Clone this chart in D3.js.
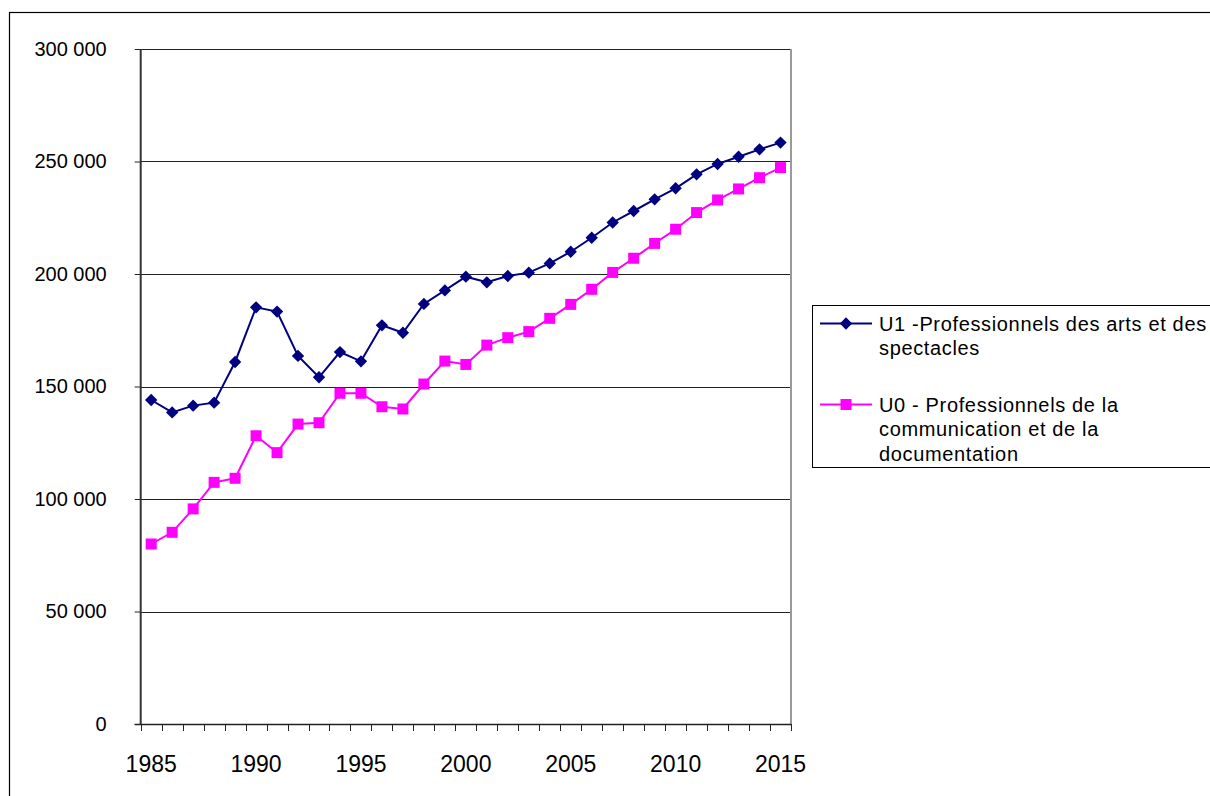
<!DOCTYPE html>
<html>
<head>
<meta charset="utf-8">
<script src="https://cdn.jsdelivr.net/npm/d3@7"></script>
<style>
  html, body { margin: 0; padding: 0; background: #fff; }
  svg { display: block; }
  text { font-family: "Liberation Sans", Arial, sans-serif; fill: #000; }
</style>
</head>
<body>
<svg id="chart" width="1210" height="796"></svg>
<script>
const years = d3.range(1985, 2016);
const u1Values = [144000, 138500, 141500, 142800, 160900, 185200, 183300, 163600, 154100, 165300,
                  161200, 177200, 173900, 186700, 192700, 198800, 196300, 199100, 200600, 204700,
                  209900, 216100, 222900, 228000, 233200, 238100, 244300, 248900, 252100, 255400, 258400];
const u0Values = [80000, 85200, 95600, 107400, 109200, 128100, 120600, 133300, 133900, 147000,
                  147000, 141000, 140000, 151100, 161300, 159800, 168400, 171700, 174400, 180300,
                  186500, 193200, 200700, 207000, 213600, 219900, 227300, 232900, 237800, 242800, 247300];
const yTicks = [0, 50000, 100000, 150000, 200000, 250000, 300000];
const xLabelYears = [1985, 1990, 1995, 2000, 2005, 2010, 2015];
const seriesNames = ["U1 -Professionnels des arts et des spectacles",
                     "U0 - Professionnels de la communication et de la documentation"];
const legendLines = [["U1 -Professionnels des arts et des", "spectacles"],
                     ["U0 - Professionnels de la", "communication et de la", "documentation"]];
const colors = ["#000080", "#FF00FF"];

const svg = d3.select("#chart");
const plot = { left: 140.7, right: 791, top: 49, bottom: 724 };

// outer chart border (cropped on right/bottom)
svg.append("rect").attr("x", 9.5).attr("y", 12.5).attr("width", 1400).attr("height", 1000)
  .attr("fill", "none").attr("stroke", "#000").attr("stroke-width", 1.2);

const x = d3.scaleBand().domain(years).range([plot.left, plot.right]).padding(0);
const y = d3.scaleLinear().domain([0, 300000]).range([plot.bottom, plot.top]);
const cx = d => x(d) + x.bandwidth() / 2;

const loc = d3.formatLocale({ decimal: ",", thousands: " ", grouping: [3], currency: ["", " €"] });
const fmt = loc.format(",");

// gridlines
svg.append("g").selectAll("line").data(yTicks.filter(t => t > 0)).join("line")
  .attr("x1", plot.left).attr("x2", plot.right)
  .attr("y1", d => Math.round(y(d)) + 0.5).attr("y2", d => Math.round(y(d)) + 0.5)
  .attr("stroke", "#222").attr("stroke-width", 1);

// right plot border
svg.append("line").attr("x1", plot.right).attr("x2", plot.right)
  .attr("y1", plot.top).attr("y2", plot.bottom)
  .attr("stroke", "#9a9a9a").attr("stroke-width", 2);

// y axis
const yAxis = svg.append("g").attr("transform", `translate(${plot.left},0)`)
  .call(d3.axisLeft(y).tickValues(yTicks).tickFormat(fmt).tickSize(6).tickPadding(28));
yAxis.select(".domain").remove();
yAxis.selectAll(".tick line").attr("stroke", "#222").attr("stroke-width", 1);
yAxis.selectAll(".tick text").attr("font-size", 20).attr("font-family", "Liberation Sans, Arial, sans-serif")
  .attr("fill", "#111");
svg.append("line").attr("x1", plot.left).attr("x2", plot.left)
  .attr("y1", plot.top).attr("y2", plot.bottom + 1)
  .attr("stroke", "#333").attr("stroke-width", 2);

// x axis line
svg.append("line").attr("x1", plot.left - 6).attr("x2", plot.right)
  .attr("y1", plot.bottom + 0.5).attr("y2", plot.bottom + 0.5)
  .attr("stroke", "#222").attr("stroke-width", 1.5);
// x ticks at band boundaries
const boundaries = years.map(d => x(d)).concat([plot.right]);
svg.append("g").selectAll("line").data(boundaries).join("line")
  .attr("x1", d => Math.round(d) + 0.5).attr("x2", d => Math.round(d) + 0.5)
  .attr("y1", plot.bottom).attr("y2", plot.bottom + 7)
  .attr("stroke", "#222").attr("stroke-width", 1);
// x labels
const xAxis = svg.append("g").attr("transform", `translate(0,${plot.bottom})`)
  .call(d3.axisBottom(x).tickValues(xLabelYears).tickSize(0).tickPadding(31.5));
xAxis.select(".domain").remove();
xAxis.selectAll(".tick text").attr("font-size", 23).attr("font-family", "Liberation Sans, Arial, sans-serif")
  .attr("fill", "#111");

// lines & markers
const series = [u1Values, u0Values];
const line = d3.line().x((d, i) => cx(years[i])).y(d => y(d));
series.forEach((vals, si) => {
  svg.append("path").datum(vals).attr("d", line)
    .attr("fill", "none").attr("stroke", colors[si]).attr("stroke-width", 2);
});
// diamonds for U1
svg.append("g").selectAll("path").data(u1Values).join("path")
  .attr("d", d3.symbol().type(d3.symbolSquare).size(76))
  .attr("transform", (d, i) => `translate(${cx(years[i])},${y(d)}) rotate(45)`)
  .attr("fill", colors[0]);
// squares for U0
svg.append("g").selectAll("rect").data(u0Values).join("rect")
  .attr("x", (d, i) => cx(years[i]) - 5.5).attr("y", d => y(d) - 5.5)
  .attr("width", 11).attr("height", 11).attr("fill", colors[1]);

// legend
const lg = svg.append("g");
lg.append("rect").attr("x", 812.5).attr("y", 305.5).attr("width", 500).attr("height", 162)
  .attr("fill", "#fff").attr("stroke", "#000").attr("stroke-width", 1);
const legendY = [323.5, 404.5];
legendLines.forEach((lines, i) => {
  lg.append("line").attr("x1", 820).attr("x2", 872).attr("y1", legendY[i]).attr("y2", legendY[i])
    .attr("stroke", colors[i]).attr("stroke-width", 2);
  if (i === 0) {
    lg.append("path").attr("d", d3.symbol().type(d3.symbolSquare).size(76))
      .attr("transform", `translate(846,${legendY[i]}) rotate(45)`).attr("fill", colors[i]);
  } else {
    lg.append("rect").attr("x", 840.5).attr("y", legendY[i] - 5.5).attr("width", 11).attr("height", 11)
      .attr("fill", colors[i]);
  }
  const t = lg.append("text").attr("x", 879).attr("y", legendY[i] + 7).attr("font-size", 20)
    .attr("letter-spacing", 0.65).attr("fill", "#111");
  t.selectAll("tspan").data(lines).join("tspan")
    .attr("x", 879).attr("dy", (d, j) => j === 0 ? 0 : 24.5).text(d => d);
});
</script>
</body>
</html>
